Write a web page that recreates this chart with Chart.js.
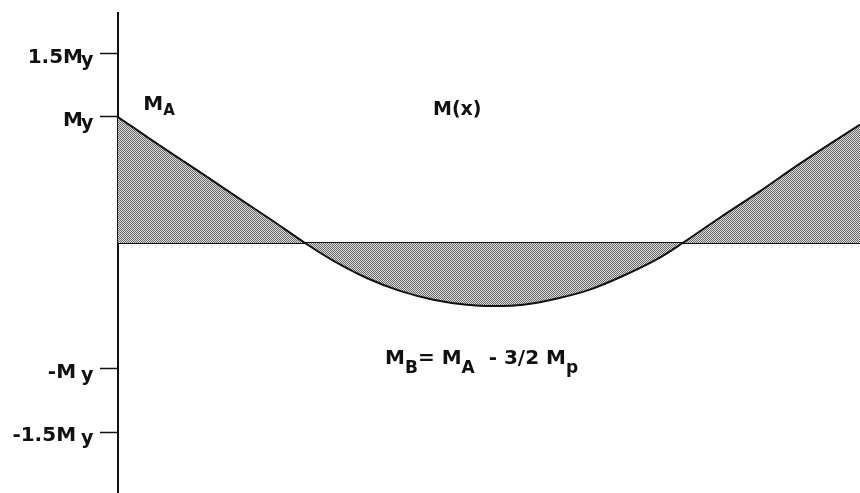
<!DOCTYPE html>
<html>
<head>
<meta charset="utf-8">
<script src="https://cdn.jsdelivr.net/npm/chart.js@4.4.1/dist/chart.umd.min.js"></script>
<style>
  html, body { margin: 0; padding: 0; background: #fff; }
  #wrap { width: 860px; height: 493px; }
</style>
</head>
<body>
<div id="wrap"><canvas id="c" width="860" height="493"></canvas></div>
<script>
// Position along the span, x / L
const positions = [0, 0.057, 0.111, 0.164, 0.205, 0.252, 0.290, 0.336, 0.380, 0.425, 0.470, 0.508, 0.546, 0.592, 0.636, 0.681, 0.726, 0.761, 0.811, 0.865, 0.919, 1.0];
// Bending moment M(x), in units of M_y
const moments = [1.00, 0.77, 0.56, 0.35, 0.19, 0.00, -0.14, -0.28, -0.38, -0.45, -0.49, -0.50, -0.49, -0.44, -0.37, -0.26, -0.13, 0.00, 0.20, 0.41, 0.63, 0.94];
// Moment-axis ticks: value, main label text, subscript
const tickValues = [-1.5, -1, 0, 1, 1.5];
const tickMain = ['-1.5M ', '-M ', '', 'M', '1.5M'];
const tickSub = ['y', 'y', '', 'y', 'y'];

const FONT = '"DejaVu Sans", "Liberation Sans", Arial, sans-serif';
const INK = '#111';

// Text notes placed in data coordinates; each part is [text, isSubscript]
const notes = [
  { x: 0.034, y: 1.056, size: 20, subSize: 15, subDrop: 5,
    parts: [['M', false], ['A', true]] },
  { x: 0.4245, y: 1.016, size: 19, subSize: 15, subDrop: 5,
    parts: [['M(x)', false]] },
  { x: 0.36, y: -0.96, size: 20, subSize: 17, subDrop: 9,
    parts: [['M', false], ['B', true], ['= M', false], ['A', true], ['  - 3/2 M', false], ['p', true]] }
];

// Dithered grey fill for the moment area
function makeStipple() {
  const p = document.createElement('canvas');
  p.width = 2; p.height = 2;
  const g = p.getContext('2d');
  g.fillStyle = '#dcdcdc';
  g.fillRect(0, 0, 2, 2);
  g.fillStyle = '#6a6a6a';
  g.fillRect(0, 0, 1, 1);
  g.fillRect(1, 1, 1, 1);
  return g.createPattern(p, 'repeat');
}

const labelPlugin = {
  id: 'momentLabels',
  afterDraw(chart) {
    const ctx = chart.ctx;
    const ys = chart.scales.y;
    const xs = chart.scales.x;
    ctx.save();
    ctx.fillStyle = INK;
    ctx.textBaseline = 'alphabetic';
    // axis labels such as 1.5M with subscript y
    tickValues.forEach((v, i) => {
      if (!tickMain[i]) return;
      const py = ys.getPixelForValue(v);
      ctx.font = 'bold 20px ' + FONT;
      ctx.textAlign = 'right';
      ctx.fillText(tickMain[i], ys.right - 35, py + 9);
      ctx.font = 'bold 19px ' + FONT;
      ctx.textAlign = 'left';
      ctx.fillText(tickSub[i], ys.right - 37, py + 12);
    });
    // annotations
    notes.forEach(n => {
      let px = xs.getPixelForValue(n.x);
      const py = ys.getPixelForValue(n.y);
      ctx.textAlign = 'left';
      n.parts.forEach(([t, sub]) => {
        ctx.font = 'bold ' + (sub ? n.subSize : n.size) + 'px ' + FONT;
        ctx.fillText(t, px, py + (sub ? n.subDrop : 0));
        px += ctx.measureText(t).width;
      });
    });
    ctx.restore();
  }
};

new Chart(document.getElementById('c').getContext('2d'), {
  type: 'line',
  data: {
    datasets: [{
      data: positions.map((x, i) => ({ x: x, y: moments[i] })),
      borderColor: INK,
      borderWidth: 2,
      pointRadius: 0,
      tension: 0.35,
      fill: { value: 0 },
      backgroundColor: makeStipple()
    }]
  },
  options: {
    responsive: false,
    animation: false,
    devicePixelRatio: 1,
    events: [],
    layout: { padding: { top: 13, left: 0, right: 0, bottom: 0 } },
    plugins: { legend: { display: false }, tooltip: { enabled: false } },
    scales: {
      x: { type: 'linear', min: 0, max: 1, display: false },
      y: {
        type: 'linear', min: -1.984, max: 1.825, z: 1,
        afterBuildTicks: s => { s.ticks = tickValues.map(v => ({ value: v })); },
        afterFit: s => { s.width = 118; },
        ticks: { display: false },
        border: { display: true, color: INK, width: 2 },
        grid: {
          drawOnChartArea: true,
          drawTicks: true,
          tickLength: 18,
          color: c => (c.tick && c.tick.value === 0 ? INK : 'rgba(0,0,0,0)'),
          lineWidth: c => (c.tick && c.tick.value === 0 ? 2 : 1),
          tickColor: c => (c.tick && c.tick.value === 0 ? 'rgba(0,0,0,0)' : INK),
          tickWidth: 1.5
        }
      }
    }
  },
  plugins: [labelPlugin]
});
</script>
</body>
</html>
